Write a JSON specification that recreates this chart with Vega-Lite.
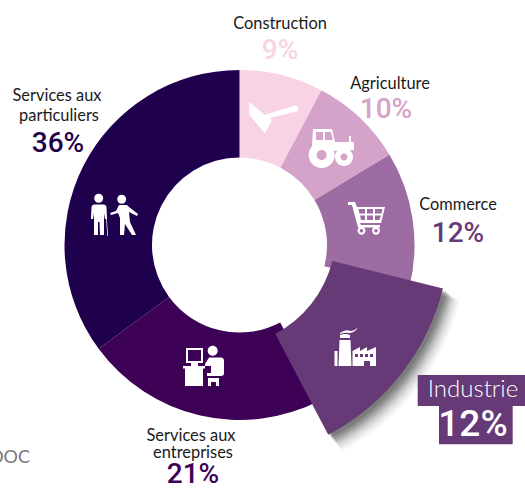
{"$schema":"https://vega.github.io/schema/vega-lite/v6.json","width":525,"height":488,"padding":0,"autosize":"none","background":"white","config":{"view":{"stroke":null}},
"datasets":{
"sectors":[
{"sector":"Construction","start":0,"end":27.9,"cx":239.5,"cy":245},
{"sector":"Agriculture","start":27.9,"end":59,"cx":239.5,"cy":245},
{"sector":"Commerce","start":59,"end":104,"cx":239.5,"cy":245},
{"sector":"Industrie","start":104,"end":152.3,"cx":222.7,"cy":233.7},
{"sector":"Services aux entreprises","start":152.3,"end":233.6,"cx":239.5,"cy":245},
{"sector":"Services aux particuliers","start":233.6,"end":360,"cx":239.5,"cy":245}],
"labels":[
{"text":"Construction","x":280,"y":24},
{"text":"Agriculture","x":390,"y":84},
{"text":"Commerce","x":458,"y":205},
{"text":"Services aux","x":57,"y":96},
{"text":"particuliers","x":59,"y":116},
{"text":"Services aux","x":191,"y":436},
{"text":"entreprises","x":193,"y":453}],
"shares":[
{"sector":"Construction","text":"9%","x":280,"y":51},
{"sector":"Agriculture","text":"10%","x":386,"y":110},
{"sector":"Services aux particuliers","text":"36%","x":58,"y":144},
{"sector":"Services aux entreprises","text":"21%","x":193,"y":475}],
"boxes":[
{"x":417.7,"x2":525,"y":375,"y2":406},
{"x":439,"x2":512.7,"y":405,"y2":444.3}],
"shadow":[
{"sector":"Industrie","start":104,"end":152.3,"cx":222.7,"cy":233.7}],
"icons":[
{"icon":"hoe","x":273,"y":117},
{"icon":"tractor","x":330,"y":145},
{"icon":"cart","x":366,"y":218},
{"icon":"factory","x":356,"y":346},
{"icon":"desk","x":204,"y":367},
{"icon":"people","x":115,"y":216}]},
"encoding":{
"x":{"field":"x","type":"quantitative","axis":null,"scale":{"domain":[0,525],"nice":false,"zero":false}},
"y":{"field":"y","type":"quantitative","axis":null,"scale":{"domain":[488,0],"nice":false,"zero":false}}},
"layer":[
{"data":{"name":"sectors"},"transform":[{"filter":"datum.sector !== 'Industrie'"}],"mark":{"type":"arc","radius":175,"radius2":87.5},
"encoding":{"x":{"field":"cx","type":"quantitative"},"y":{"field":"cy","type":"quantitative"},
"theta":{"field":"start","type":"quantitative","scale":{"domain":[0,360],"range":[0,6.28319]}},"theta2":{"field":"end"},
"color":{"field":"sector","type":"nominal","legend":null,"scale":{"domain":["Construction","Agriculture","Commerce","Industrie","Services aux entreprises","Services aux particuliers"],"range":["#f8d3e5","#d5a3c9","#9c6ca3","#663977","#3d0155","#1f004c"]}}}},
{"data":{"name":"shadow"},"mark":{"type":"arc","radius":233,"radius2":113,"color":"#222","opacity":0.035,"xOffset":11,"yOffset":11},"encoding":{"x":{"field":"cx","type":"quantitative"},"y":{"field":"cy","type":"quantitative"},"theta":{"field":"start","type":"quantitative"},"theta2":{"field":"end"}}},
{"data":{"name":"shadow"},"mark":{"type":"arc","radius":232,"radius2":113,"color":"#222","opacity":0.05,"xOffset":10,"yOffset":10},"encoding":{"x":{"field":"cx","type":"quantitative"},"y":{"field":"cy","type":"quantitative"},"theta":{"field":"start","type":"quantitative"},"theta2":{"field":"end"}}},
{"data":{"name":"shadow"},"mark":{"type":"arc","radius":231,"radius2":113,"color":"#222","opacity":0.06,"xOffset":9,"yOffset":9},"encoding":{"x":{"field":"cx","type":"quantitative"},"y":{"field":"cy","type":"quantitative"},"theta":{"field":"start","type":"quantitative"},"theta2":{"field":"end"}}},
{"data":{"name":"shadow"},"mark":{"type":"arc","radius":230,"radius2":113,"color":"#222","opacity":0.07,"xOffset":8,"yOffset":8},"encoding":{"x":{"field":"cx","type":"quantitative"},"y":{"field":"cy","type":"quantitative"},"theta":{"field":"start","type":"quantitative"},"theta2":{"field":"end"}}},
{"data":{"name":"shadow"},"mark":{"type":"arc","radius":229.5,"radius2":113,"color":"#222","opacity":0.08,"xOffset":7,"yOffset":7},"encoding":{"x":{"field":"cx","type":"quantitative"},"y":{"field":"cy","type":"quantitative"},"theta":{"field":"start","type":"quantitative"},"theta2":{"field":"end"}}},
{"data":{"name":"shadow"},"mark":{"type":"arc","radius":229,"radius2":113,"color":"#222","opacity":0.1,"xOffset":6,"yOffset":6},"encoding":{"x":{"field":"cx","type":"quantitative"},"y":{"field":"cy","type":"quantitative"},"theta":{"field":"start","type":"quantitative"},"theta2":{"field":"end"}}},
{"data":{"name":"shadow"},"mark":{"type":"arc","radius":228.5,"radius2":113,"color":"#222","opacity":0.12,"xOffset":5,"yOffset":5},"encoding":{"x":{"field":"cx","type":"quantitative"},"y":{"field":"cy","type":"quantitative"},"theta":{"field":"start","type":"quantitative"},"theta2":{"field":"end"}}},
{"data":{"name":"shadow"},"mark":{"type":"arc","radius":228,"radius2":113,"color":"#222","opacity":0.14,"xOffset":4,"yOffset":4},"encoding":{"x":{"field":"cx","type":"quantitative"},"y":{"field":"cy","type":"quantitative"},"theta":{"field":"start","type":"quantitative"},"theta2":{"field":"end"}}},
{"data":{"name":"shadow"},"mark":{"type":"arc","radius":227,"radius2":113,"color":"#222","opacity":0.16,"xOffset":3,"yOffset":3},"encoding":{"x":{"field":"cx","type":"quantitative"},"y":{"field":"cy","type":"quantitative"},"theta":{"field":"start","type":"quantitative"},"theta2":{"field":"end"}}},
{"data":{"name":"sectors"},"transform":[{"filter":"datum.sector === 'Industrie'"}],"mark":{"type":"arc","radius":227,"radius2":113,"color":"#663977"},"encoding":{"x":{"field":"cx","type":"quantitative"},"y":{"field":"cy","type":"quantitative"},"theta":{"field":"start","type":"quantitative"},"theta2":{"field":"end"}}},
{"data":{"name":"boxes"},"mark":{"type":"rect","color":"#663977"},"encoding":{"x2":{"field":"x2"},"y2":{"field":"y2"}}},
{"data":{"name":"labels"},"mark":{"type":"text","font":"Lato","fontSize":16.4,"color":"#1a1a1a","align":"center","baseline":"middle"},"encoding":{"text":{"field":"text"}}},
{"data":{"name":"shares"},"mark":{"type":"text","font":"Roboto","fontSize":28,"fontWeight":500,"align":"center","baseline":"middle"},"encoding":{"text":{"field":"text"},"color":{"field":"sector","type":"nominal","legend":null}}},
{"data":{"values":[{"text":"12%","x":458,"y":234}]},"mark":{"type":"text","font":"Roboto","fontSize":28,"fontWeight":500,"color":"#663977","align":"center","baseline":"middle"},"encoding":{"text":{"field":"text"}}},
{"data":{"values":[{"text":"Industrie","x":473,"y":390}]},"mark":{"type":"text","font":"Lato","fontSize":24,"fontWeight":300,"color":"white","align":"center","baseline":"middle"},"encoding":{"text":{"field":"text"}}},
{"data":{"values":[{"text":"12%","x":473,"y":425}]},"mark":{"type":"text","font":"Roboto","fontSize":37,"fontWeight":500,"color":"white","align":"center","baseline":"middle"},"encoding":{"text":{"field":"text"}}},
{"data":{"values":[{"text":"DOC","x":30,"y":458}]},"mark":{"type":"text","font":"Lato","fontSize":18,"color":"#777777","align":"right","baseline":"middle"},"encoding":{"text":{"field":"text"}}},
{"data":{"name":"icons"},"transform":[{"filter":"datum.icon === 'hoe'"}],"mark":{"type":"point","filled":true,"opacity":1,"color":"white","strokeWidth":0,"size":4,"shape":"M-24 -15.3 L-9.5 -3 L-9 -2 L22 -11.5 Q25 -11.5 25 -8.5 Q25 -6 23 -5.5 L-3 1 L-1.3 3.7 L-8 16.3 L-23.7 -2 Z"}},
{"data":{"name":"icons"},"transform":[{"filter":"datum.icon === 'tractor'"}],"mark":{"type":"point","filled":true,"opacity":1,"color":"white","strokeWidth":0,"size":4,"shape":"M-17 -16 L2 -16 L5 -3 L19 -3 L19 -9 L21 -9 L21 -3 L24 -3 L24 5 L5 6 L-4 1 L-18 1 Z M-14 -13 L-14 -5 L-7 -5 L-7 -13 Z M-5 -13 L-5 -5 L3 -5 L1 -13 Z M-21.3 10 a13 13 0 1 1 26 0 a13 13 0 1 1 -26 0 Z M-13.3 10 a5 5 0 1 0 10 0 a5 5 0 1 0 -10 0 Z M5 12 a9 9 0 1 1 18 0 a9 9 0 1 1 -18 0 Z M10.5 12 a3.5 3.5 0 1 0 7 0 a3.5 3.5 0 1 0 -7 0 Z"}},
{"data":{"name":"icons"},"transform":[{"filter":"datum.icon === 'cart'"}],"mark":{"type":"point","filled":true,"opacity":1,"color":"white","strokeWidth":0,"size":4,"shape":"M-18 -16 L-11 -16 L-9 -11 L19 -11 L15 5 L-6 5 L-5 7 L14 7 L14 9.5 L-8 9.5 L-14 -13 L-18 -13 Z M-7.5 -9 L-6.5 -4.5 L-1 -4.5 L-1 -9 Z M1 -9 L1 -4.5 L7 -4.5 L7 -9 Z M9 -9 L9 -4.5 L15.5 -4.5 L16.5 -9 Z M-6 -2.5 L-5 2 L-1 2 L-1 -2.5 Z M1 -2.5 L1 2 L7 2 L7 -2.5 Z M9 -2.5 L9 2 L13.5 2 L15 -2.5 Z M-8.5 12.7 a4 4 0 1 1 8 0 a4 4 0 1 1 -8 0 Z M-6.3 12.7 a1.8 1.8 0 1 0 3.6 0 a1.8 1.8 0 1 0 -3.6 0 Z M6 12.7 a4 4 0 1 1 8 0 a4 4 0 1 1 -8 0 Z M8.2 12.7 a1.8 1.8 0 1 0 3.6 0 a1.8 1.8 0 1 0 -3.6 0 Z"}},
{"data":{"name":"icons"},"transform":[{"filter":"datum.icon === 'factory'"}],"mark":{"type":"point","filled":true,"opacity":1,"color":"white","strokeWidth":0,"size":4,"shape":"M-16.5 -6 L-5.5 -6 L-4.5 20 L-17.5 20 Z M-16 -11 Q-11 -13 -6 -11 L-6 -8 L-16 -8 Z M-16 -13 Q-10 -17 -6 -15 Q-1 -15 2 -19 Q0 -14 -6 -13 Q-11 -14 -16 -12 Z M-21.5 5 L-18.5 5 L-18.5 20 L-21.5 20 Z M-3.5 20 L-3.5 5 L4 1 L4 5 L11 1 L11 5 L20 1 L20 20 L14 20 L14 15 L8 15 L8 20 Z M-1 8 L-1 11 L2 11 L2 8 Z M4 8 L4 11 L7 11 L7 8 Z M9 8 L9 11 L12 11 L12 8 Z M14 8 L14 11 L17 11 L17 8 Z"}},
{"data":{"name":"icons"},"transform":[{"filter":"datum.icon === 'desk'"}],"mark":{"type":"point","filled":true,"opacity":1,"color":"white","strokeWidth":0,"size":4,"shape":"M-18 -19 L-1 -19 L-1 -4 L-6 -4 L-6 -1 L1 -1 L1 1.5 L-1 1.5 L-1 19 L-19 19 L-19 1.5 L-21 1.5 L-21 -1 L-13 -1 L-13 -4 L-18 -4 Z M-16 -17 L-16 -6 L-3 -6 L-3 -17 Z M3.7 -16.3 a5 5 0 1 1 10 0 a5 5 0 1 1 -10 0 Z M1 -3 L5 -9.5 L17 -9.5 Q20 -9.5 20 -6 L20 6 Q20 9 17 9 L3 9 L3 6 L7 6 L7 -1 L1 -1 Z M4 11 L15 11 L15 19 L12 19 L12 15 L7 15 L7 19 L4 19 Z"}},
{"data":{"name":"icons"},"transform":[{"filter":"datum.icon === 'people'"}],"mark":{"type":"point","filled":true,"opacity":1,"color":"white","strokeWidth":0,"size":4,"shape":"M-20.8 -17.7 a4.5 4.5 0 1 1 9 0 a4.5 4.5 0 1 1 -9 0 Z M-21 -11.5 L-11 -11.5 Q-9 -11.5 -8.5 -9 L-8 3 L-10 3 L-11 -3 L-11 19 L-15 19 L-15.5 6 L-17 6 L-17 19 L-21 19 L-21 -3 L-22 3 L-24 3 L-23.5 -9 Q-23 -11.5 -21 -11.5 Z M-9 1 L-8.3 1 L-7 20 L-7.7 20 Z M2.2 -16.7 a4.5 4.5 0 1 1 9 0 a4.5 4.5 0 1 1 -9 0 Z M-5 -3 L1 -5 L4 -11 L11 -11 Q13 -11 14 -9 L23 -2 L22 0 L14 -4 L15 6 L21 19 L17 19 L10 8 L9 19 L5 19 L5 2 L3 -3 L-4 -1 Z"}}
]}
